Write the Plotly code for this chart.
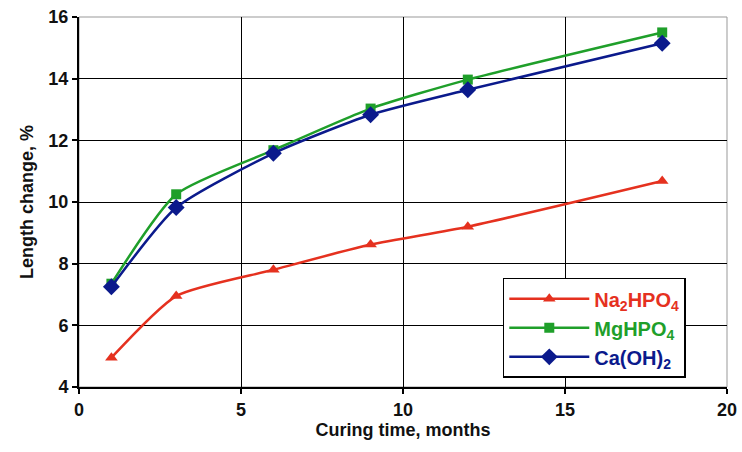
import plotly.graph_objects as go

months = [1, 3, 6, 9, 12, 18]
na2hpo4 = [4.95, 6.95, 7.8, 8.62, 9.2, 10.68]
mghpo4 = [7.35, 10.25, 11.68, 13.03, 13.97, 15.5]
caoh2 = [7.25, 9.82, 11.58, 12.83, 13.64, 15.15]

x_ticks = [0, 5, 10, 15, 20]
y_ticks = [4, 6, 8, 10, 12, 14, 16]

RED = '#E5311F'
GREEN = '#1F9F2A'
BLUE = '#0B1A8C'
FONT = "Liberation Sans Narrow, Arial Narrow, Liberation Sans, Arial, sans-serif"
TXT = '#111111'

fig = go.Figure()
series = [
    ("Na<sub>2</sub>HPO<sub>4</sub>", na2hpo4, RED, 'triangle-up', 11),
    ("MgHPO<sub>4</sub>", mghpo4, GREEN, 'square', 10),
    ("Ca(OH)<sub>2</sub>", caoh2, BLUE, 'diamond', 13),
]
for name, vals, col, sym, size in series:
    fig.add_trace(go.Scatter(
        x=months, y=vals, mode='lines+markers',
        name=f'<span style="color:{col}"><b>{name}</b></span>',
        line=dict(color=col, width=2.5, shape='spline', smoothing=0.6),
        marker=dict(color=col, symbol=sym, size=size),
    ))

fig.add_shape(type='rect', xref='paper', yref='paper', x0=0, y0=0, x1=1, y1=1,
              line=dict(color='#999999', width=1), layer='below')

axis_common = dict(showgrid=True, gridcolor='black', gridwidth=1,
                   showline=True, linecolor='black', linewidth=2,
                   ticks='outside', ticklen=5, tickcolor='black', tickwidth=1.5,
                   zeroline=False, ticklabeloverflow='allow',
                   tickfont=dict(family=FONT, size=18, color=TXT))

fig.update_xaxes(range=[0, 20], tickvals=x_ticks,
                 ticktext=[f'<b>{v}</b>' for v in x_ticks], **axis_common,
                 title=dict(text='<b>Curing time, months</b>',
                            font=dict(family=FONT, size=18, color=TXT), standoff=2))
fig.update_yaxes(range=[4, 16], tickvals=y_ticks,
                 ticktext=[f'<b>{v}</b>' for v in y_ticks], **axis_common,
                 title=dict(text='<b>Length change, %</b>',
                            font=dict(family=FONT, size=18, color=TXT), standoff=10))

fig.update_layout(
    width=742, height=452,
    margin=dict(l=79, r=15, t=17, b=65, autoexpand=False),
    plot_bgcolor='white', paper_bgcolor='white',
    font=dict(family=FONT, size=18),
    legend=dict(x=0.654, y=0.295, xanchor='left', yanchor='top',
                bgcolor='white', bordercolor='black', borderwidth=1.5,
                font=dict(family=FONT, size=20), itemwidth=80,
                tracegroupgap=0),
)

fig.write_html("out.html", config={'displayModeBar': False},
               post_script="document.body.style.margin='0';document.body.style.overflow='hidden';")
